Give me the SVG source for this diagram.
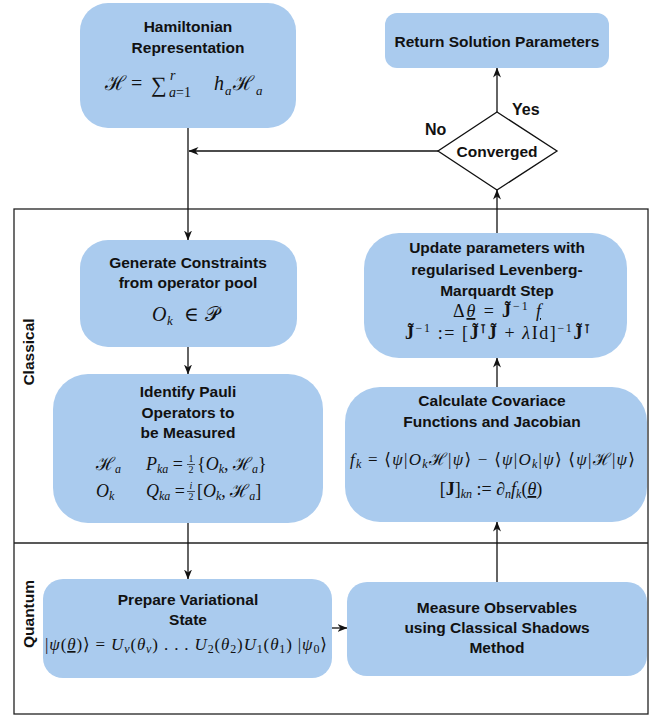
<svg xmlns="http://www.w3.org/2000/svg" width="662" height="717" viewBox="0 0 662 717">
<defs>
<style>
.node{fill:#aacbee;stroke:none}
.t{font-family:"Liberation Sans",Arial,sans-serif;font-weight:bold;font-size:15.5px;fill:#111;text-anchor:middle}
.m{font-family:"Liberation Serif","DejaVu Serif",serif;font-style:italic;font-size:17px;fill:#111}
.r{font-style:normal}
.c{font-style:normal;font-family:"DejaVu Serif",serif}
.b{font-style:normal;font-weight:bold}
.s{font-size:12px}
.conn{stroke:#111;stroke-width:1.3;fill:none}
.frame{stroke:#222;stroke-width:1.3;fill:none}
</style>
<marker id="ah" viewBox="0 0 10 8" refX="9.5" refY="4" markerWidth="10" markerHeight="8" markerUnits="userSpaceOnUse" orient="auto">
<path d="M0,0 L10,4 L0,8 L3,4 z" fill="#111"/>
</marker>
</defs>

<g id="frame">
<rect class="frame" x="14" y="209" width="634" height="505"/>
<line class="frame" x1="14" y1="543" x2="648" y2="543"/>
<text class="t" transform="translate(34,352) rotate(-90)">Classical</text>
<text class="t" transform="translate(34,614) rotate(-90)">Quantum</text>
</g>

<g id="connectors">
<line class="conn" x1="188" y1="128" x2="188" y2="240" marker-end="url(#ah)"/>
<line class="conn" x1="438" y1="151" x2="189" y2="151" marker-end="url(#ah)"/>
<line class="conn" x1="497" y1="112" x2="497" y2="68" marker-end="url(#ah)"/>
<line class="conn" x1="497" y1="233" x2="497" y2="190" marker-end="url(#ah)"/>
<line class="conn" x1="497" y1="387" x2="497" y2="358" marker-end="url(#ah)"/>
<line class="conn" x1="188" y1="347" x2="188" y2="374" marker-end="url(#ah)"/>
<line class="conn" x1="188" y1="523" x2="188" y2="579" marker-end="url(#ah)"/>
<line class="conn" x1="332" y1="628" x2="347" y2="628" marker-end="url(#ah)"/>
<line class="conn" x1="497" y1="582" x2="497" y2="522" marker-end="url(#ah)"/>
<text class="t" x="512" y="115" style="text-anchor:start;font-size:16px">Yes</text>
<text class="t" x="425" y="135" style="text-anchor:start;font-size:16px">No</text>
</g>

<g id="hamiltonian">
<rect class="node" x="80" y="3" width="216" height="125" rx="28"/>
<text class="t" x="188" y="32">Hamiltonian</text>
<text class="t" x="188" y="53">Representation</text>
<text class="m c" x="105" y="90" style="font-size:20px">ℋ</text>
<text class="m r" x="131" y="90" style="font-size:20px">=</text>
<text class="m r" x="151" y="92" style="font-size:22px">∑</text>
<text class="m" x="170" y="80" style="font-size:14px">r</text>
<text class="m" x="169" y="97" style="font-size:14px">a<tspan class="r">=1</tspan></text>
<text class="m" x="214" y="90" style="font-size:20px">h</text>
<text class="m" x="225" y="95" style="font-size:13px">a</text>
<text class="m c" x="233" y="90" style="font-size:20px">ℋ</text>
<text class="m" x="256" y="95" style="font-size:13px">a</text>
</g>

<g id="return">
<rect class="node" x="385" y="13" width="224" height="55" rx="12"/>
<text class="t" x="497" y="47">Return Solution Parameters</text>
</g>

<g id="converged">
<polygon points="497,112 557,151 497,190 438,151" fill="#fff" stroke="#111" stroke-width="1.3"/>
<text class="t" x="497" y="157">Converged</text>
</g>

<g id="generate">
<rect class="node" x="80" y="240" width="217" height="107" rx="28"/>
<text class="t" x="188" y="268">Generate Constraints</text>
<text class="t" x="188" y="288">from operator pool</text>
<text class="m" x="152" y="321" style="font-size:20px">O</text>
<text class="m" x="167" y="325" style="font-size:13px">k</text>
<text class="m r" x="184" y="321" style="font-size:20px">∈</text>
<text class="m c" x="205" y="321" style="font-size:20px">𝒫</text>
</g>

<g id="update">
<rect class="node" x="364" y="233" width="263" height="125" rx="35"/>
<text class="t" x="497" y="253">Update parameters with</text>
<text class="t" x="497" y="275">regularised Levenberg-</text>
<text class="t" x="497" y="296">Marquardt Step</text>
<text class="m" x="453" y="317" textLength="88" lengthAdjust="spacing" style="font-size:18px"><tspan class="r">Δ</tspan><tspan text-decoration="underline">θ</tspan><tspan class="r"> = </tspan><tspan class="b">J̃</tspan><tspan class="r s" dy="-7">−1</tspan><tspan dy="7"> </tspan><tspan text-decoration="underline">f</tspan></text>
<text class="m" x="405" y="339" textLength="185" lengthAdjust="spacing" style="font-size:18px"><tspan class="b">J̃</tspan><tspan class="r s" dy="-7">−1</tspan><tspan class="r" dy="7"> := [</tspan><tspan class="b">J̃</tspan><tspan class="b c s" dy="-6">⊺</tspan><tspan class="b" dy="6">J̃</tspan><tspan class="r"> + </tspan>λ<tspan class="r">Id]</tspan><tspan class="r s" dy="-7">−1</tspan><tspan class="b" dy="7">J̃</tspan><tspan class="b c s" dy="-6">⊺</tspan></text>
</g>

<g id="pauli">
<rect class="node" x="53" y="374" width="270" height="149" rx="35"/>
<text class="t" x="188" y="397">Identify Pauli</text>
<text class="t" x="188" y="418">Operators to</text>
<text class="t" x="188" y="438">be Measured</text>
<text class="m" x="96" y="470" style="font-size:18px"><tspan class="c">ℋ</tspan><tspan class="s" dy="3">a</tspan></text>
<text class="m" x="146" y="470" style="font-size:18px">P<tspan class="s" dy="3">ka</tspan><tspan class="r" dy="-3"> =</tspan></text>
<text class="m r" x="191" y="462" style="text-anchor:middle;font-size:10px">1</text>
<line x1="187" y1="464.5" x2="195" y2="464.5" stroke="#111" stroke-width="0.7"/>
<text class="m r" x="191" y="473" style="text-anchor:middle;font-size:10px">2</text>
<text class="m" x="197" y="470" style="font-size:18px"><tspan class="r">{</tspan>O<tspan class="s" dy="3">k</tspan><tspan class="r" dy="-3">, </tspan><tspan class="c">ℋ</tspan><tspan class="s" dy="3">a</tspan><tspan class="r" dy="-3">}</tspan></text>
<text class="m" x="96" y="497" style="font-size:18px">O<tspan class="s" dy="3">k</tspan></text>
<text class="m" x="146" y="497" style="font-size:18px">Q<tspan class="s" dy="3">ka</tspan><tspan class="r" dy="-3"> =</tspan></text>
<text class="m" x="191" y="489" style="text-anchor:middle;font-size:10px">i</text>
<line x1="187" y1="491.5" x2="195" y2="491.5" stroke="#111" stroke-width="0.7"/>
<text class="m r" x="191" y="500" style="text-anchor:middle;font-size:10px">2</text>
<text class="m" x="197" y="497" style="font-size:18px"><tspan class="r">[</tspan>O<tspan class="s" dy="3">k</tspan><tspan class="r" dy="-3">, </tspan><tspan class="c">ℋ</tspan><tspan class="s" dy="3">a</tspan><tspan class="r" dy="-3">]</tspan></text>
</g>

<g id="calculate">
<rect class="node" x="345" y="387" width="302" height="135" rx="35"/>
<text class="t" x="492" y="406">Calculate Covariace</text>
<text class="t" x="492" y="427">Functions and Jacobian</text>
<text class="m" x="350" y="465" textLength="285" lengthAdjust="spacing">f<tspan class="s" dy="3">k</tspan><tspan class="r" dy="-3"> = ⟨</tspan>ψ<tspan class="r">|</tspan>O<tspan class="s" dy="3">k</tspan><tspan class="c" dy="-3">ℋ</tspan><tspan class="r">|</tspan>ψ<tspan class="r">⟩ − ⟨</tspan>ψ<tspan class="r">|</tspan>O<tspan class="s" dy="3">k</tspan><tspan class="r" dy="-3">|</tspan>ψ<tspan class="r">⟩ ⟨</tspan>ψ<tspan class="r">|</tspan><tspan class="c">ℋ</tspan><tspan class="r">|</tspan>ψ<tspan class="r">⟩</tspan></text>
<text class="m" x="491" y="495" style="text-anchor:middle;font-size:18px"><tspan class="r">[</tspan><tspan class="b">J</tspan><tspan class="r">]</tspan><tspan class="s" dy="3">kn</tspan><tspan class="r" dy="-3"> := </tspan>∂<tspan class="s" dy="3">n</tspan><tspan dy="-3">f</tspan><tspan class="s" dy="3">k</tspan><tspan class="r" dy="-3">(</tspan><tspan text-decoration="underline">θ</tspan><tspan class="r">)</tspan></text>
</g>

<g id="prepare">
<rect class="node" x="43" y="579" width="289" height="99" rx="20"/>
<text class="t" x="188" y="605">Prepare Variational</text>
<text class="t" x="188" y="625">State</text>
<text class="m" x="45" y="650" textLength="282" lengthAdjust="spacing"><tspan class="r">|</tspan>ψ<tspan class="r">(</tspan><tspan text-decoration="underline">θ</tspan><tspan class="r">)⟩ = </tspan>U<tspan class="s" dy="3">ν</tspan><tspan class="r" dy="-3">(</tspan>θ<tspan class="s" dy="3">ν</tspan><tspan class="r" dy="-3">) . . . </tspan>U<tspan class="r s" dy="3">2</tspan><tspan class="r" dy="-3">(</tspan>θ<tspan class="r s" dy="3">2</tspan><tspan class="r" dy="-3">)</tspan>U<tspan class="r s" dy="3">1</tspan><tspan class="r" dy="-3">(</tspan>θ<tspan class="r s" dy="3">1</tspan><tspan class="r" dy="-3">) |</tspan>ψ<tspan class="r s" dy="3">0</tspan><tspan class="r" dy="-3">⟩</tspan></text>
</g>

<g id="measure">
<rect class="node" x="347" y="582" width="300" height="94" rx="20"/>
<text class="t" x="497" y="613">Measure Observables</text>
<text class="t" x="497" y="633">using Classical Shadows</text>
<text class="t" x="497" y="653">Method</text>
</g>
</svg>
